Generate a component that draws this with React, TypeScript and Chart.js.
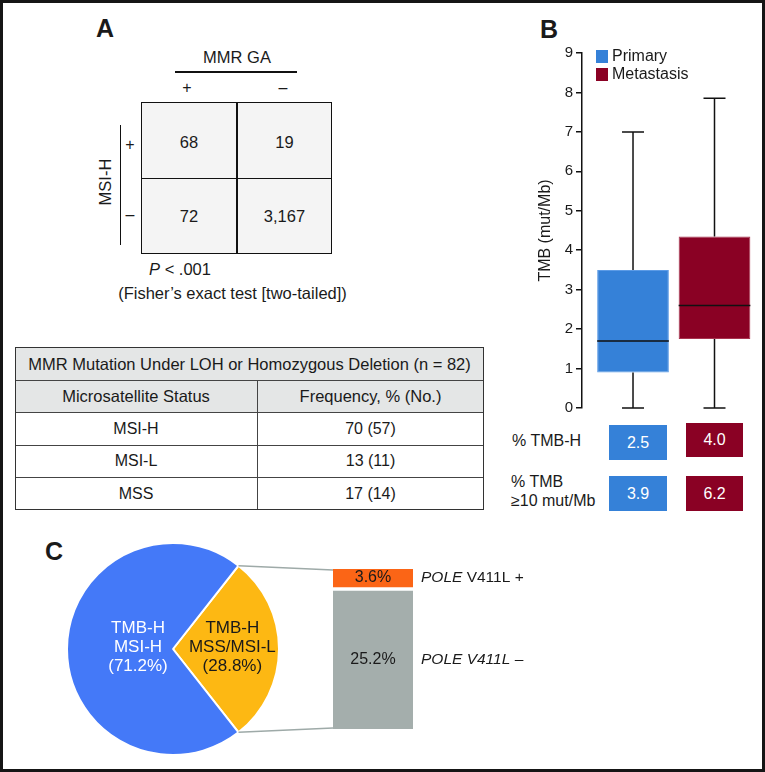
import React, { useEffect, useRef } from "react";
import { Chart, registerables } from "chart.js";
Chart.register(...registerables);

// ---------- Panel A data ----------
const mmrGaLabels = ["+", "–"];
const msiHLabels = ["+", "–"];
const contingencyRow1 = ["68", "19"];
const contingencyRow2 = ["72", "3,167"];
const fisherP = " < .001";
const fisherNote = "(Fisher’s exact test [two-tailed])";
const lohTableTitle = "MMR Mutation Under LOH or Homozygous Deletion (n = 82)";
const lohColumns = ["Microsatellite Status", "Frequency, % (No.)"];
const lohStatuses = ["MSI-H", "MSI-L", "MSS"];
const lohFrequencies = ["70 (57)", "13 (11)", "17 (14)"];

// ---------- Panel B data ----------
const boxGroups = ["Primary", "Metastasis"];
const boxPositions = [1, 2];
const boxMin = [0, 0];
const boxQ1 = [0.9, 1.75];
const boxMedian = [1.7, 2.6];
const boxQ3 = [3.5, 4.35];
const boxMax = [7.0, 7.85];
const tmbAxisMin = 0;
const tmbAxisMax = 9;
const tmbAxisStep = 1;
const tmbRowLabels = [["% TMB-H"], ["% TMB", "≥10 mut/Mb"]];
const tmbHighPct = ["2.5", "4.0"];
const tmb10Pct = ["3.9", "6.2"];

// ---------- Panel C data ----------
const pieLabels = [
  ["TMB-H", "MSS/MSI-L", "(28.8%)"],
  ["TMB-H", "MSI-H", "(71.2%)"],
];
const pieValues = [28.8, 71.2];
const poleGroups = ["POLE V411L –", "POLE V411L +"];
const poleValues = [25.2, 3.6];

// ---------- styles ----------
const FONT = '"Liberation Sans", Arial, Helvetica, sans-serif';
const INK = "#1a1a1a";
const BLUE_B = "#3581d8";
const RED_B = "#8a0124";
const PIE_BLUE = "#4479f8";
const PIE_ORANGE = "#fdb813";
const POLE_ORANGE = "#fb6516";
const POLE_GRAY = "#a4aeac";

const BOX_LEFT = 505, BOX_TOP = 40, BOX_W = 260, BOX_H = 380;
const PIE_LEFT = 62, PIE_TOP = 538, PIE_SIZE = 222;
const POLE_LEFT = 236, POLE_TOP = 540, POLE_W = 529, POLE_H = 220;

const T = ({ x, y, children, size = 16, color = INK, weight = 400, style = {} }: any) => (
  <div
    style={{
      position: "absolute",
      left: x,
      top: y,
      transform: "translate(-50%, -50%)",
      whiteSpace: "nowrap",
      fontSize: size,
      color,
      fontWeight: weight,
      lineHeight: 1.15,
      ...style,
    }}
  >
    {children}
  </div>
);

const L = ({ x, y, w, h, c = "#111" }: any) => (
  <div style={{ position: "absolute", left: x, top: y, width: w, height: h, background: c }} />
);

export default function App() {
  const boxRef = useRef<HTMLCanvasElement>(null);
  const pieRef = useRef<HTMLCanvasElement>(null);
  const poleRef = useRef<HTMLCanvasElement>(null);

  useEffect(() => {
    Chart.defaults.font.family = FONT;
    Chart.defaults.color = INK;

    // ---------- Boxplot (Panel B) ----------
    const boxColors = [BLUE_B, RED_B];
    const whiskerPlugin = {
      id: "whiskers",
      afterDatasetsDraw(chart: any) {
        const ctx = chart.ctx;
        const y = chart.scales.y;
        const meta = chart.getDatasetMeta(0);
        ctx.save();
        ctx.strokeStyle = "#111";
        ctx.lineWidth = 1.5;
        meta.data.forEach((el: any, i: number) => {
          const cx = el.x;
          const half = el.width / 2;
          const cap = 11;
          ctx.beginPath();
          ctx.moveTo(cx, y.getPixelForValue(boxMax[i]));
          ctx.lineTo(cx, y.getPixelForValue(boxQ3[i]));
          ctx.moveTo(cx, y.getPixelForValue(boxQ1[i]));
          ctx.lineTo(cx, y.getPixelForValue(boxMin[i]));
          ctx.moveTo(cx - cap, y.getPixelForValue(boxMax[i]));
          ctx.lineTo(cx + cap, y.getPixelForValue(boxMax[i]));
          ctx.moveTo(cx - cap, y.getPixelForValue(boxMin[i]));
          ctx.lineTo(cx + cap, y.getPixelForValue(boxMin[i]));
          ctx.moveTo(cx - half, y.getPixelForValue(boxMedian[i]));
          ctx.lineTo(cx + half, y.getPixelForValue(boxMedian[i]));
          ctx.stroke();
        });
        // legend
        ctx.font = `16px ${FONT}`;
        ctx.textBaseline = "middle";
        ctx.textAlign = "left";
        boxGroups.forEach((g, i) => {
          const ly = 10 + i * 18;
          ctx.fillStyle = boxColors[i];
          ctx.fillRect(91, ly, 12, 13);
          ctx.fillStyle = INK;
          ctx.fillText(g, 107, ly + 7);
        });
        ctx.restore();
      },
    };

    const boxChart = new Chart(boxRef.current as HTMLCanvasElement, {
      type: "bar",
      data: {
        labels: boxGroups,
        datasets: [
          {
            label: "TMB",
            data: boxPositions.map((p, i) => ({ x: p, y: [boxQ1[i], boxQ3[i]] })) as any,
            backgroundColor: boxColors,
            borderColor: ["#5c9be6", "#a8344f"],
            borderWidth: 1,
            borderSkipped: false,
            barPercentage: 0.88,
            categoryPercentage: 1,
          },
        ],
      },
      options: {
        animation: false,
        responsive: false,
        maintainAspectRatio: false,
        layout: { padding: { left: 27, top: 13, right: 10, bottom: 12 } },
        plugins: { legend: { display: false }, tooltip: { enabled: false } },
        scales: {
          x: {
            type: "linear",
            min: 0.374,
            max: 2.497,
            offset: false,
            display: false,
            afterBuildTicks: (s: any) => {
              s.ticks = boxPositions.map((v) => ({ value: v }));
            },
          },
          y: {
            min: tmbAxisMin,
            max: tmbAxisMax,
            ticks: { stepSize: tmbAxisStep, font: { size: 15 }, color: INK, padding: 3 },
            grid: { display: true, drawOnChartArea: false, drawTicks: true, tickLength: 6, color: "#111", lineWidth: 1.5 },
            border: { display: true, color: "#111", width: 1.5 },
            title: { display: true, text: "TMB (mut/Mb)", font: { size: 16 }, color: INK, padding: { top: 4, bottom: 0 } },
            afterFit: (s: any) => {
              s.width = 50;
            },
          },
        },
      },
      plugins: [whiskerPlugin],
    });

    // ---------- Pie (Panel C) ----------
    const pieColors = [PIE_ORANGE, PIE_BLUE];
    const pieTextColors = [INK, "#ffffff"];
    const pieLabelRadius = [0.56, 0.33];
    const pieLabelPlugin = {
      id: "pieLabels",
      afterDatasetsDraw(chart: any) {
        const ctx = chart.ctx;
        const meta = chart.getDatasetMeta(0);
        ctx.save();
        ctx.font = `17px ${FONT}`;
        ctx.textAlign = "center";
        ctx.textBaseline = "middle";
        meta.data.forEach((el: any, i: number) => {
          const mid = (el.startAngle + el.endAngle) / 2;
          const r = el.outerRadius * pieLabelRadius[i];
          const cx = el.x + Math.cos(mid) * r;
          const cy = el.y + Math.sin(mid) * r - 2;
          const lines = pieLabels[i];
          const lh = 19;
          ctx.fillStyle = pieTextColors[i];
          lines.forEach((ln, k) => {
            ctx.fillText(ln, cx, cy + (k - (lines.length - 1) / 2) * lh);
          });
        });
        ctx.restore();
      },
    };
    const pieChart = new Chart(pieRef.current as HTMLCanvasElement, {
      type: "pie",
      data: {
        labels: pieLabels.map((l) => l.join(" ")),
        datasets: [
          {
            data: pieValues,
            backgroundColor: pieColors,
            borderColor: "#ffffff",
            borderWidth: 2,
          },
        ],
      },
      options: {
        animation: false,
        responsive: false,
        maintainAspectRatio: false,
        rotation: 90 - (pieValues[0] / (pieValues[0] + pieValues[1])) * 180,
        layout: { padding: 4 },
        plugins: { legend: { display: false }, tooltip: { enabled: false } },
      },
      plugins: [pieLabelPlugin],
    });

    // ---------- POLE bar (Panel C) ----------
    const poleColors = [POLE_GRAY, POLE_ORANGE];
    const poleItalicChars = [poleGroups[0].length, 4];
    const polePlugin = {
      id: "poleDecor",
      afterDatasetsDraw(chart: any) {
        const ctx = chart.ctx;
        ctx.save();
        // connectors from the pie slice edges
        const arc: any = pieChart.getDatasetMeta(0).data[0];
        const dx = PIE_LEFT - POLE_LEFT;
        const dy = PIE_TOP - POLE_TOP;
        const R = arc.outerRadius;
        const p1 = { x: arc.x + Math.cos(arc.startAngle) * R + dx, y: arc.y + Math.sin(arc.startAngle) * R + dy };
        const p2 = { x: arc.x + Math.cos(arc.endAngle) * R + dx, y: arc.y + Math.sin(arc.endAngle) * R + dy };
        const topEl: any = chart.getDatasetMeta(1).data[0];
        const botEl: any = chart.getDatasetMeta(0).data[0];
        const barLeft = topEl.x - topEl.width / 2;
        ctx.strokeStyle = "#9eaaa8";
        ctx.lineWidth = 1.5;
        ctx.beginPath();
        ctx.moveTo(p1.x, p1.y);
        ctx.lineTo(barLeft, topEl.y + 1);
        ctx.moveTo(p2.x, p2.y);
        ctx.lineTo(barLeft, botEl.base - 1);
        ctx.stroke();
        // labels
        ctx.textBaseline = "middle";
        [0, 1].forEach((d) => {
          const el: any = chart.getDatasetMeta(d).data[0];
          const top = d === 0 ? el.y + 2 : el.y;
          const bottom = d === 1 ? el.base - 2 : el.base;
          const cy = (top + bottom) / 2;
          ctx.fillStyle = INK;
          ctx.textAlign = "center";
          ctx.font = `16px ${FONT}`;
          ctx.fillText(`${poleValues[d]}%`, el.x, cy);
          ctx.textAlign = "left";
          const text = poleGroups[d];
          const itPart = text.slice(0, poleItalicChars[d]);
          const rest = text.slice(poleItalicChars[d]);
          let x = el.x + el.width / 2 + 8;
          ctx.font = `italic 15.5px ${FONT}`;
          ctx.fillText(itPart, x, cy);
          x += ctx.measureText(itPart).width;
          ctx.font = `15.5px ${FONT}`;
          if (rest) ctx.fillText(rest, x, cy);
        });
        ctx.restore();
      },
    };
    const poleChart = new Chart(poleRef.current as HTMLCanvasElement, {
      type: "bar",
      data: {
        labels: ["TMB-H MSS/MSI-L"],
        datasets: [
          {
            label: poleGroups[0],
            data: [poleValues[0]],
            backgroundColor: poleColors[0],
            borderColor: "#ffffff",
            borderWidth: { top: 2, left: 0, right: 0, bottom: 0 } as any,
            borderSkipped: false,
            barPercentage: 1,
            categoryPercentage: 1,
          },
          {
            label: poleGroups[1],
            data: [poleValues[1]],
            backgroundColor: poleColors[1],
            borderColor: "#ffffff",
            borderWidth: { top: 0, left: 0, right: 0, bottom: 2 } as any,
            borderSkipped: false,
            barPercentage: 1,
            categoryPercentage: 1,
          },
        ],
      },
      options: {
        animation: false,
        responsive: false,
        maintainAspectRatio: false,
        layout: { padding: { left: 97, right: POLE_W - 177, top: 29, bottom: 31 } },
        plugins: { legend: { display: false }, tooltip: { enabled: false } },
        scales: {
          x: { stacked: true, display: false },
          y: { stacked: true, display: false, min: 0, max: poleValues[0] + poleValues[1] },
        },
      },
      plugins: [polePlugin],
    });

    return () => {
      boxChart.destroy();
      poleChart.destroy();
      pieChart.destroy();
    };
  }, []);

  const colX = [189, 284.5];
  const rowY = [142, 216];
  const lohRowY = [428.5, 461, 493.5];
  const lohLines = [380, 412, 445, 477];

  return (
    <div
      style={{
        position: "fixed",
        left: 0,
        top: 0,
        width: 765,
        height: 772,
        background: "#fff",
        fontFamily: FONT,
        color: INK,
        overflow: "hidden",
      }}
    >
      {/* ---------- Panel A ---------- */}
      <T x={105} y={28} size={25} weight={700}>A</T>
      <T x={237} y={57} size={16.5}>MMR GA</T>
      <L x={175} y={71} w={122} h={1.5} />
      <T x={187} y={88}>{mmrGaLabels[0]}</T>
      <T x={283} y={88}>{mmrGaLabels[1]}</T>
      <div
        style={{
          position: "absolute",
          left: 141,
          top: 102,
          width: 191,
          height: 152,
          background: "#f4f4f4",
          border: "1.5px solid #111",
          boxSizing: "border-box",
        }}
      />
      <L x={236} y={102} w={1.5} h={152} />
      <L x={141} y={177.5} w={191} h={1.5} />
      {contingencyRow1.map((v, i) => (
        <T key={"r1" + i} x={colX[i]} y={rowY[0]} size={16.5}>{v}</T>
      ))}
      {contingencyRow2.map((v, i) => (
        <T key={"r2" + i} x={colX[i]} y={rowY[1]} size={16.5}>{v}</T>
      ))}
      <T x={130} y={145}>{msiHLabels[0]}</T>
      <T x={130} y={215}>{msiHLabels[1]}</T>
      <L x={119.5} y={125} w={1.5} h={120} />
      <T x={105} y={182} size={16.5} style={{ transform: "translate(-50%, -50%) rotate(-90deg)" }}>MSI-H</T>
      <T x={180} y={269} size={16.5}>
        <span style={{ fontStyle: "italic" }}>P</span>
        {fisherP}
      </T>
      <T x={232.5} y={293} size={16.5}>{fisherNote}</T>

      {/* LOH table */}
      <div style={{ position: "absolute", left: 15, top: 347, width: 469, height: 65, background: "#e4e6e6" }} />
      {lohLines.map((y, i) => (
        <L key={"hl" + i} x={15} y={y - 0.5} w={469} h={1.2} c="#444" />
      ))}
      <L x={256.5} y={380} w={1.2} h={130} c="#444" />
      <div
        style={{
          position: "absolute",
          left: 15,
          top: 347,
          width: 469,
          height: 163,
          border: "1.5px solid #333",
          boxSizing: "border-box",
        }}
      />
      <T x={249.5} y={363.5} size={16.5}>{lohTableTitle}</T>
      <T x={136} y={396} size={16.5}>{lohColumns[0]}</T>
      <T x={370.5} y={396} size={16.5}>{lohColumns[1]}</T>
      {lohStatuses.map((s, i) => (
        <T key={"s" + i} x={136} y={lohRowY[i]} size={16}>{s}</T>
      ))}
      {lohFrequencies.map((s, i) => (
        <T key={"f" + i} x={370.5} y={lohRowY[i]} size={16}>{s}</T>
      ))}

      {/* ---------- Panel B ---------- */}
      <T x={549} y={29} size={25} weight={700}>B</T>
      <canvas
        ref={boxRef}
        width={BOX_W}
        height={BOX_H}
        style={{ position: "absolute", left: BOX_LEFT, top: BOX_TOP, width: BOX_W, height: BOX_H }}
      />
      <div style={{ position: "absolute", left: 512, top: 441, transform: "translateY(-50%)", fontSize: 16, whiteSpace: "nowrap" }}>
        {tmbRowLabels[0][0]}
      </div>
      <div style={{ position: "absolute", left: 511, top: 490.5, transform: "translateY(-50%)", fontSize: 16, lineHeight: "19px", whiteSpace: "nowrap" }}>
        {tmbRowLabels[1][0]}
        <br />
        {tmbRowLabels[1][1]}
      </div>
      {[
        { v: tmbHighPct[0], l: 609, t: 425, w: 58, h: 35, c: BLUE_B },
        { v: tmbHighPct[1], l: 686, t: 423, w: 57, h: 34, c: RED_B },
        { v: tmb10Pct[0], l: 609, t: 476, w: 58, h: 35, c: BLUE_B },
        { v: tmb10Pct[1], l: 686, t: 476, w: 57, h: 35, c: RED_B },
      ].map((b, i) => (
        <div
          key={"vb" + i}
          style={{
            position: "absolute",
            left: b.l,
            top: b.t,
            width: b.w,
            height: b.h,
            background: b.c,
            color: "#fff",
            fontSize: 16,
            display: "flex",
            alignItems: "center",
            justifyContent: "center",
          }}
        >
          {b.v}
        </div>
      ))}

      {/* ---------- Panel C ---------- */}
      <T x={54} y={551} size={25} weight={700}>C</T>
      <canvas
        ref={pieRef}
        width={PIE_SIZE}
        height={PIE_SIZE}
        style={{ position: "absolute", left: PIE_LEFT, top: PIE_TOP, width: PIE_SIZE, height: PIE_SIZE }}
      />
      <canvas
        ref={poleRef}
        width={POLE_W}
        height={POLE_H}
        style={{ position: "absolute", left: POLE_LEFT, top: POLE_TOP, width: POLE_W, height: POLE_H }}
      />

      {/* outer frame */}
      <div
        style={{
          position: "absolute",
          left: 0,
          top: 0,
          width: 765,
          height: 772,
          border: "3px solid #151515",
          boxSizing: "border-box",
          pointerEvents: "none",
        }}
      />
    </div>
  );
}
